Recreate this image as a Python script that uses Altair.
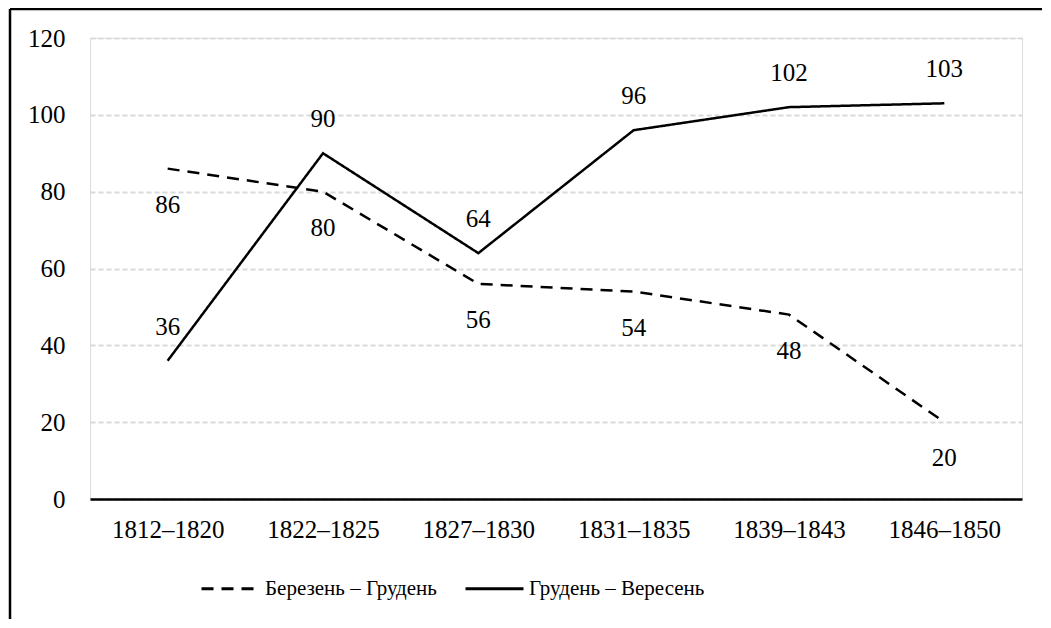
import altair as alt
import pandas as pd

periods = ["1812–1820", "1822–1825", "1827–1830", "1831–1835", "1839–1843", "1846–1850"]
series_a = "Березень – Грудень"
series_b = "Грудень – Вересень"
values_a = [86, 80, 56, 54, 48, 20]
values_b = [36, 90, 64, 96, 102, 103]
y_ticks = [0, 20, 40, 60, 80, 100, 120]

rows = []
for p, v in zip(periods, values_a):
    rows.append({"period": p, "series": series_a, "value": v})
for p, v in zip(periods, values_b):
    rows.append({"period": p, "series": series_b, "value": v})
df = pd.DataFrame(rows)

FONT = "Liberation Serif"

x = alt.X("period:O", sort=periods, title=None,
          scale=alt.Scale(type="point", padding=0.5),
          axis=alt.Axis(labelAngle=0, domainColor="black", domainWidth=2.5,
                        ticks=False, tickSize=0, labelPadding=30, labelBaseline="middle",
                        labelFontSize=25, labelFont=FONT, labelColor="black", grid=False))
y = alt.Y("value:Q", title=None,
          scale=alt.Scale(domain=[0, 120], nice=False),
          axis=alt.Axis(values=y_ticks, domain=False, ticks=False, tickSize=0,
                        labelPadding=25, labelFontSize=25, labelFont=FONT,
                        labelColor="black", grid=True, gridColor="#d9d9d9",
                        gridDash=[5, 3], gridWidth=2))

base = alt.Chart(df)

lines = base.mark_line(color="black", strokeWidth=2.5).encode(
    x=x, y=y,
    strokeDash=alt.StrokeDash(
        "series:N",
        scale=alt.Scale(domain=[series_a, series_b], range=[[12, 8], [1, 0]]),
        legend=alt.Legend(title=None, orient="none", direction="horizontal",
                          legendX=110, legendY=520, columns=2,
                          symbolType="stroke", symbolSize=3364,
                          symbolStrokeWidth=3, symbolStrokeColor="black",
                          labelFont=FONT, labelFontSize=21, labelColor="black",
                          labelLimit=0, labelOffset=4, columnPadding=22,
                          symbolOffset=0, padding=0),
    ),
    detail="series:N",
)

labels_a = base.transform_filter(alt.datum.series == series_a).mark_text(
    font=FONT, fontSize=25, color="black", dy=36, baseline="middle"
).encode(x=x, y=y, text="value:Q")

labels_b = base.transform_filter(alt.datum.series == series_b).mark_text(
    font=FONT, fontSize=25, color="black", dy=-34, baseline="middle"
).encode(x=x, y=y, text="value:Q")

frame_left = alt.Chart(pd.DataFrame({"k": [0]})).mark_rule(color="black", strokeWidth=2.5).encode(
    x=alt.value(-80), y=alt.value(-29), y2=alt.value(640))
frame_top = alt.Chart(pd.DataFrame({"k": [0]})).mark_rule(color="black", strokeWidth=2.5).encode(
    x=alt.value(-80), x2=alt.value(1000), y=alt.value(-29))

chart = alt.layer(lines, labels_a, labels_b, frame_left, frame_top).properties(
    width=932, height=461,
    autosize=alt.AutoSizeParams(type="none"),
    padding={"left": 82, "top": 30, "right": 20, "bottom": 120},
).configure_view(stroke=None).configure(background="white")

chart.save("out.html", embed_options={"renderer": "svg", "actions": False})
